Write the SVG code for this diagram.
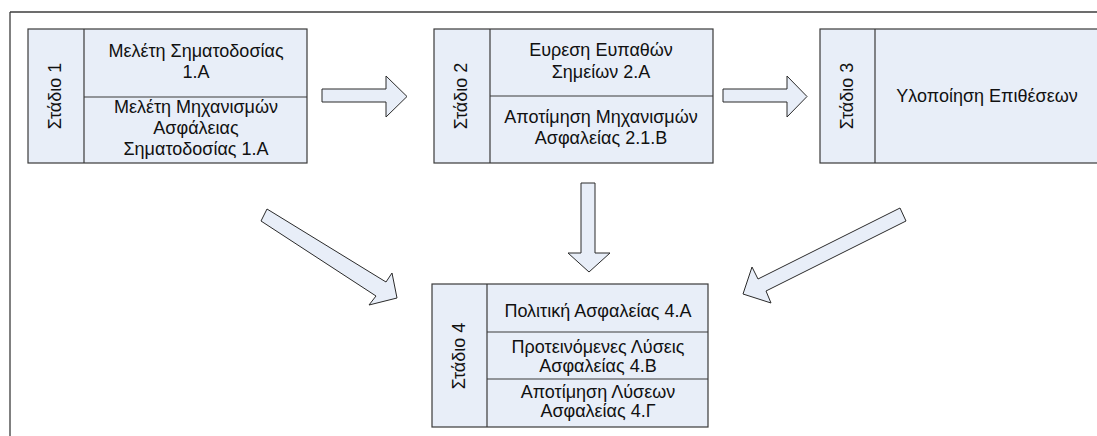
<svg xmlns="http://www.w3.org/2000/svg" width="1097" height="436" viewBox="0 0 1097 436">
  <style>
    .cell { fill: #e8eef8; stroke: #3a3a3a; stroke-width: 1.2; }
    .div { stroke: #3a3a3a; stroke-width: 1.2; fill: none; }
    .arrow { fill: #e8eef8; stroke: #2a2a2a; stroke-width: 1; stroke-linejoin: miter; }
    .frame { stroke: #3c3c3c; stroke-width: 1.3; fill: none; }
    text { font-family: "Liberation Sans", Arial, "DejaVu Sans", sans-serif; font-size: 18px; fill: #111; text-anchor: middle; }
  </style>
  <rect x="0" y="0" width="1097" height="436" fill="#ffffff"/>

  <!-- page frame -->
  <g id="frame">
    <line class="frame" x1="10" y1="12" x2="1097" y2="12"/>
    <line class="frame" x1="10" y1="12" x2="10" y2="436"/>
  </g>

  <!-- stage 1 -->
  <g id="stage1">
    <rect class="cell" x="28" y="29" width="279" height="134"/>
    <line class="div" x1="84" y1="29" x2="84" y2="163"/>
    <line class="div" x1="84" y1="97" x2="307" y2="97"/>
    <text transform="translate(61,96) rotate(-90)">Στάδιο 1</text>
    <text x="196" y="57">Μελέτη Σηματοδοσίας</text>
    <text x="196" y="78">1.Α</text>
    <text x="196" y="113">Μελέτη Μηχανισμών</text>
    <text x="196" y="134">Ασφάλειας</text>
    <text x="196" y="155">Σηματοδοσίας 1.Α</text>
  </g>

  <!-- stage 2 -->
  <g id="stage2">
    <rect class="cell" x="434" y="29" width="279" height="134"/>
    <line class="div" x1="490" y1="29" x2="490" y2="163"/>
    <line class="div" x1="490" y1="96" x2="713" y2="96"/>
    <text transform="translate(467,96) rotate(-90)">Στάδιο 2</text>
    <text x="601" y="56">Ευρεση Ευπαθών</text>
    <text x="601" y="78">Σημείων 2.Α</text>
    <text x="601" y="123">Αποτίμηση Μηχανισμών</text>
    <text x="601" y="144">Ασφαλείας 2.1.Β</text>
  </g>

  <!-- stage 3 -->
  <g id="stage3">
    <rect class="cell" x="820" y="29" width="282" height="134"/>
    <line class="div" x1="875" y1="29" x2="875" y2="163"/>
    <text transform="translate(853,96) rotate(-90)">Στάδιο 3</text>
    <text x="987" y="102">Υλοποίηση Επιθέσεων</text>
  </g>

  <!-- stage 4 -->
  <g id="stage4">
    <rect class="cell" x="432" y="284" width="276" height="143"/>
    <line class="div" x1="487" y1="284" x2="487" y2="427"/>
    <line class="div" x1="487" y1="332" x2="708" y2="332"/>
    <line class="div" x1="487" y1="379" x2="708" y2="379"/>
    <text transform="translate(465,356) rotate(-90)">Στάδιο 4</text>
    <text x="598" y="317">Πολιτική Ασφαλείας 4.Α</text>
    <text x="598" y="353">Προτεινόμενες Λύσεις</text>
    <text x="598" y="372">Ασφαλείας 4.Β</text>
    <text x="598" y="398">Αποτίμηση Λύσεων</text>
    <text x="598" y="417">Ασφαλείας 4.Γ</text>
  </g>

  <!-- block arrows between stages -->
  <g id="connectors">
    <polygon class="arrow" points="322,89 386,89 386,76 407,96.5 386,117 386,102 322,102"/>
    <polygon class="arrow" points="723,89 787,89 787,76 807,96.5 787,117 787,102 723,102"/>
    <polygon class="arrow" points="581,183 595,183 595,253 610,253 589,272 568,253 581,253"/>
    <polygon class="arrow" points="267,209 386,282 392,273 397,298 369,305 376,296 261,221"/>
    <polygon class="arrow" points="900,208 758,279 752,267 743,294 771,303 766,291 906,221"/>
  </g>
</svg>
